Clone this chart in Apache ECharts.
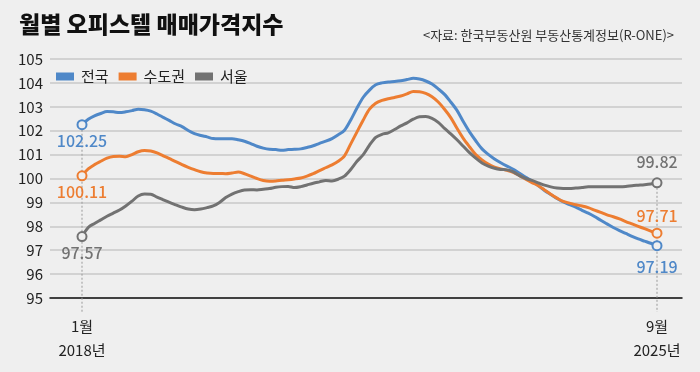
<!DOCTYPE html>
<html><head><meta charset="utf-8">
<script src="https://cdn.jsdelivr.net/npm/echarts@6/dist/echarts.min.js"></script>
<style>html,body{margin:0;padding:0;background:#efefef}#c{width:700px;height:372px}</style>
</head><body><div id="c"></div>
<script>
const titleText = '월별 오피스텔 매매가격지수';
const sourceText = '<자료: 한국부동산원 부동산통계정보(R-ONE)>';
const seriesNames = ['전국', '수도권', '서울'];
const seriesColors = ['#4f88c8', '#ed7d31', '#727272'];
// monthly index, Jan 2018 .. Sep 2025
const nationwide = [102.25,102.48,102.62,102.72,102.80,102.79,102.76,102.79,102.84,102.90,102.88,102.82,
  102.70,102.56,102.42,102.28,102.17,102.01,101.88,101.80,101.74,101.67,101.66,101.66,
  101.66,101.62,101.56,101.46,101.35,101.27,101.22,101.21,101.18,101.21,101.22,101.24,
  101.30,101.37,101.47,101.56,101.67,101.83,102.02,102.45,102.95,103.40,103.70,103.92,
  104.00,104.04,104.06,104.09,104.14,104.19,104.16,104.08,103.95,103.75,103.52,103.20,
  102.85,102.38,101.95,101.58,101.24,101.01,100.82,100.66,100.52,100.39,100.22,100.05,
  99.89,99.70,99.50,99.33,99.16,99.02,98.91,98.80,98.67,98.55,98.41,98.25,
  98.10,97.95,97.82,97.70,97.58,97.47,97.38,97.29,97.19];
const capital = [100.11,100.40,100.58,100.72,100.85,100.92,100.93,100.91,101.00,101.12,101.17,101.15,
  101.07,100.95,100.83,100.71,100.58,100.47,100.37,100.28,100.23,100.21,100.21,100.20,
  100.23,100.27,100.20,100.10,100.00,99.92,99.89,99.90,99.93,99.95,99.98,100.02,
  100.10,100.20,100.33,100.45,100.57,100.72,100.95,101.45,101.95,102.45,102.90,103.15,
  103.27,103.34,103.39,103.45,103.54,103.64,103.63,103.56,103.42,103.20,102.90,102.55,
  102.10,101.68,101.33,101.00,100.78,100.60,100.48,100.40,100.34,100.26,100.12,99.97,
  99.83,99.70,99.52,99.34,99.18,99.04,98.97,98.90,98.85,98.78,98.68,98.58,
  98.48,98.40,98.31,98.20,98.10,98.00,97.90,97.80,97.71];
const seoul = [97.57,97.95,98.12,98.27,98.42,98.55,98.68,98.85,99.05,99.27,99.35,99.34,
  99.22,99.11,99.00,98.90,98.80,98.72,98.69,98.72,98.78,98.85,99.00,99.20,
  99.35,99.45,99.52,99.53,99.52,99.55,99.58,99.63,99.66,99.67,99.62,99.66,
  99.73,99.80,99.86,99.92,99.90,99.97,100.10,100.38,100.72,101.00,101.40,101.72,
  101.85,101.91,102.05,102.20,102.33,102.48,102.58,102.59,102.52,102.35,102.10,101.87,
  101.62,101.35,101.08,100.85,100.65,100.52,100.43,100.38,100.36,100.28,100.12,100.00,
  99.92,99.82,99.72,99.65,99.60,99.58,99.58,99.60,99.62,99.65,99.65,99.65,
  99.66,99.66,99.66,99.67,99.70,99.72,99.74,99.77,99.82];
const xLabelIndex = [0, 92];
const xLabelText = ['1월\n2018년', '9월\n2025년'];
const yMin = 95, yMax = 105, yStep = 1;

const BG = '#efefef';
const FONT = "'Noto Sans CJK KR', 'Noto Sans', sans-serif";
const allValues = [nationwide, capital, seoul];
// label placement for [start, end] per series
const labelPos = [[['bottom', 3], ['bottom', 8]], [['bottom', 3], ['top', 4]], [['bottom', 3], ['top', 7]]];

function buildData(values, color, pos) {
  const last = values.length - 1;
  return values.map((v, i) => {
    if (i === 0 || i === last) {
      const p = pos[i === 0 ? 0 : 1];
      return {
        value: [i, v], symbol: 'circle', symbolSize: 9,
        itemStyle: { color: BG, borderColor: color, borderWidth: 2 },
        label: { show: true, position: p[0], distance: p[1], formatter: v.toFixed(2),
          color: color, fontSize: 16, fontWeight: 500, fontFamily: FONT }
      };
    }
    return [i, v];
  });
}

const chart = echarts.init(document.getElementById('c'), null, { renderer: 'canvas' });
const option = {
  backgroundColor: BG,
  animation: false,
  textStyle: { fontFamily: FONT },
  title: [
    { text: titleText, left: 14, top: 8, textStyle: { fontSize: 23, fontWeight: 900, color: '#111', fontFamily: FONT } },
    { text: sourceText, right: 21, top: 24, textStyle: { fontSize: 13, fontWeight: 'normal', color: '#333', fontFamily: FONT } }
  ],
  legend: {
    left: 51, top: 64, icon: 'rect', itemWidth: 18, itemHeight: 8, itemGap: 10,
    textStyle: { fontSize: 15, color: '#222', fontFamily: FONT, padding: [0, 0, 0, 2] },
    data: seriesNames
  },
  grid: { left: 50, right: 18, top: 59, bottom: 74 },
  xAxis: {
    type: 'value', min: -5.12, max: 96,
    axisLine: { show: true, onZero: false, lineStyle: { color: '#111', width: 1.5 } },
    axisTick: { show: false }, splitLine: { show: false },
    axisLabel: {
      customValues: xLabelIndex,
      formatter: v => xLabelText[xLabelIndex.indexOf(v)],
      fontSize: 15, color: '#222', lineHeight: 24, margin: 16, fontFamily: FONT
    }
  },
  yAxis: {
    type: 'value', min: yMin, max: yMax, interval: yStep,
    axisLine: { show: false }, axisTick: { show: false },
    axisLabel: { fontSize: 15, color: '#222', margin: 7, fontFamily: FONT },
    splitLine: { lineStyle: { color: '#c8c8c8', width: 1.5 } }
  },
  series: allValues.map((vals, k) => ({
    name: seriesNames[k], type: 'line', smooth: 0.3,
    symbol: 'circle', symbolSize: 0, showSymbol: true,
    color: seriesColors[k],
    lineStyle: { color: seriesColors[k], width: 3 },
    itemStyle: { color: seriesColors[k] },
    z: 3 + k,
    data: buildData(vals, seriesColors[k], labelPos[k])
  }))
};
chart.setOption(option);

// dotted guide lines at first and last months, positioned through the axes
const firstIdx = 0, lastIdx = nationwide.length - 1;
const topFirst = Math.max(...allValues.map(a => a[firstIdx]));
const topLast = Math.max(...allValues.map(a => a[lastIdx]));
const pA = chart.convertToPixel({ gridIndex: 0 }, [firstIdx, topFirst]);
const pB = chart.convertToPixel({ gridIndex: 0 }, [lastIdx, topLast]);
const pBase = chart.convertToPixel({ gridIndex: 0 }, [firstIdx, yMin]);
chart.setOption({
  graphic: [
    { type: 'line', z: 1, shape: { x1: pA[0], y1: pA[1] + 5, x2: pA[0], y2: pBase[1] + 14 },
      style: { stroke: '#9a9a9a', lineWidth: 1, lineDash: [2, 2] } },
    { type: 'line', z: 1, shape: { x1: pB[0], y1: pB[1] + 5, x2: pB[0], y2: pBase[1] + 14 },
      style: { stroke: '#9a9a9a', lineWidth: 1, lineDash: [2, 2] } }
  ]
});
</script></body></html>
